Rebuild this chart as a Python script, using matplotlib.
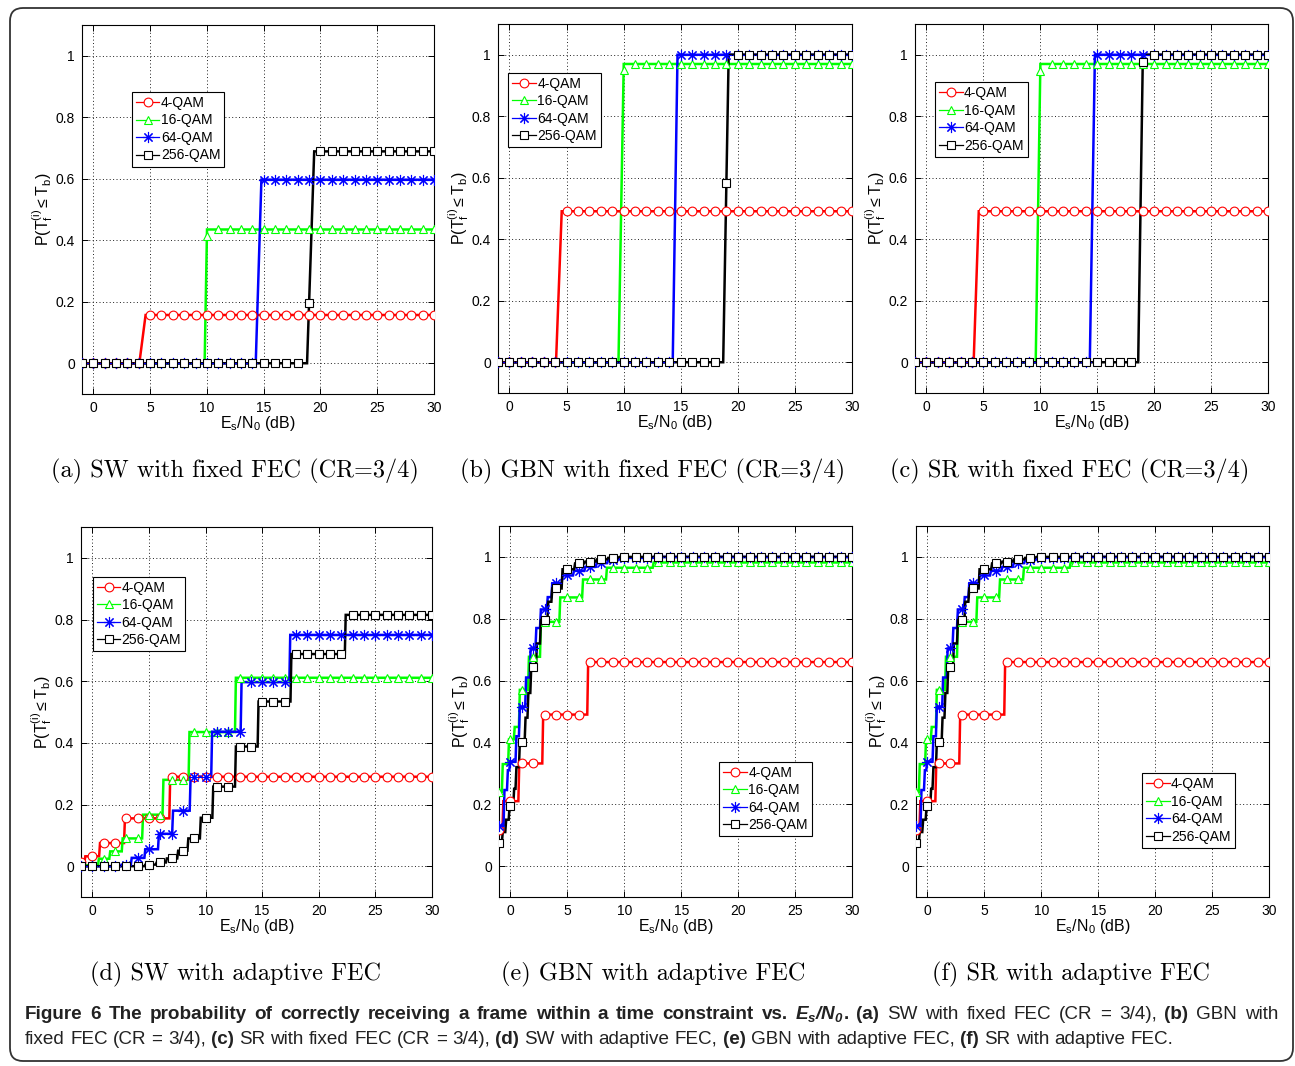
import numpy as np
import matplotlib
matplotlib.use("Agg")
import matplotlib.pyplot as plt
from matplotlib import font_manager
from matplotlib.font_manager import FontProperties
from matplotlib.lines import Line2D
from matplotlib.patches import FancyBboxPatch

# ---------------------------------------------------------------------------
# Data: P(T_f <= T_b) versus Es/N0.  Each curve is a staircase given as
# (Es/N0 where the step starts [dB], probability reached after the step).
# The first entry is the value at the lowest simulated Es/N0.
# ---------------------------------------------------------------------------
SNR_GRID = np.arange(-1, 31)          # simulated Es/N0 points (dB)
MODULATIONS = ["4-QAM", "16-QAM", "64-QAM", "256-QAM"]
COLORS = ["#ff0000", "#00ff00", "#0000ff", "#000000"]
MARKERS = ["o", "^", (8, 2, 0), "s"]

# (a) SW with fixed FEC (CR = 3/4)
sw_fixed_4qam = [(-1, 0.0), (4.05, 0.157)]
sw_fixed_16qam = [(-1, 0.0), (9.80, 0.435)]
sw_fixed_64qam = [(-1, 0.0), (14.30, 0.597)]
sw_fixed_256qam = [(-1, 0.0), (18.82, 0.689)]
sw_fixed_ramp = [0.55, 0.21, 0.50, 0.63]

# (b) GBN with fixed FEC (CR = 3/4)
gbn_fixed_4qam = [(-1, 0.0), (4.08, 0.491)]
gbn_fixed_16qam = [(-1, 0.0), (9.55, 0.970)]
gbn_fixed_64qam = [(-1, 0.0), (14.30, 1.0)]
gbn_fixed_256qam = [(-1, 0.0), (18.72, 1.0)]
gbn_fixed_ramp = [0.50, 0.46, 0.42, 0.48]

# (c) SR with fixed FEC (CR = 3/4)
sr_fixed_4qam = [(-1, 0.0), (4.15, 0.491)]
sr_fixed_16qam = [(-1, 0.0), (9.60, 0.970)]
sr_fixed_64qam = [(-1, 0.0), (14.35, 1.0)]
sr_fixed_256qam = [(-1, 0.0), (18.60, 1.0)]
sr_fixed_ramp = [0.45, 0.41, 0.45, 0.41]

# (d) SW with adaptive FEC
sw_adapt_4qam = [(-1, 0.012), (-0.7, 0.032), (0.6, 0.075), (2.8, 0.155),
                 (6.8, 0.29)]
sw_adapt_16qam = [(-1, 0.003), (0.5, 0.024), (1.5, 0.048), (2.6, 0.09),
                  (4.4, 0.167), (6.2, 0.28), (8.5, 0.435), (12.6, 0.611)]
sw_adapt_64qam = [(-1, 0.0), (2.5, 0.005), (3.4, 0.027), (4.6, 0.055),
                  (5.8, 0.105), (7.05, 0.18), (8.6, 0.29), (10.5, 0.436),
                  (13.1, 0.597), (17.4, 0.75)]
sw_adapt_256qam = [(-1, 0.0), (4.6, 0.005), (5.6, 0.012), (6.5, 0.025),
                   (7.5, 0.05), (8.4, 0.09), (9.5, 0.157), (10.6, 0.258),
                   (12.6, 0.388), (14.6, 0.534), (17.5, 0.688), (22.3, 0.815)]

# (e) GBN with adaptive FEC
gbn_adapt_4qam = [(-1, 0.117), (-0.7, 0.21), (0.7, 0.332), (2.8, 0.49),
                  (6.75, 0.66)]
gbn_adapt_16qam = [(-1, 0.24), (-0.75, 0.33), (-0.2, 0.41), (0.3, 0.45),
                   (0.75, 0.57), (1.55, 0.677), (2.6, 0.79), (4.3, 0.869),
                   (6.3, 0.927), (8.4, 0.965), (12.5, 0.982)]
gbn_adapt_64qam = [(-1, 0.13), (-0.6, 0.246), (-0.3, 0.31), (-0.1, 0.338),
                   (0.45, 0.42), (0.75, 0.515), (1.3, 0.61), (1.7, 0.704),
                   (2.2, 0.77), (2.6, 0.83), (3.2, 0.87), (3.6, 0.915),
                   (4.5, 0.94), (5.5, 0.955), (6.5, 0.968), (7.5, 0.98),
                   (8.5, 0.99), (9.5, 0.997), (12.5, 1.0)]
gbn_adapt_256qam = [(-1, 0.076), (-0.75, 0.11), (-0.45, 0.15), (-0.15, 0.194),
                    (0.25, 0.25), (0.45, 0.32), (0.75, 0.40), (1.25, 0.48),
                    (1.5, 0.56), (1.75, 0.645), (2.25, 0.72), (2.6, 0.796),
                    (3.25, 0.855), (3.6, 0.898), (4.5, 0.96), (5.6, 0.979),
                    (6.5, 0.985), (7.5, 0.992), (8.5, 0.997), (9.5, 1.0)]

# (f) SR with adaptive FEC
sr_adapt_4qam = [(-1, 0.117), (-0.7, 0.21), (0.7, 0.332), (2.8, 0.49),
                 (6.75, 0.66)]
sr_adapt_16qam = [(-1, 0.24), (-0.75, 0.33), (-0.2, 0.41), (0.3, 0.45),
                  (0.75, 0.57), (1.55, 0.677), (2.6, 0.79), (4.3, 0.869),
                  (6.3, 0.927), (8.4, 0.965), (12.5, 0.982)]
sr_adapt_64qam = [(-1, 0.13), (-0.6, 0.246), (-0.3, 0.31), (-0.1, 0.338),
                  (0.45, 0.42), (0.75, 0.515), (1.3, 0.61), (1.7, 0.704),
                  (2.2, 0.77), (2.6, 0.83), (3.2, 0.87), (3.6, 0.915),
                  (4.5, 0.94), (5.5, 0.955), (6.5, 0.968), (7.5, 0.98),
                  (8.5, 0.99), (9.5, 0.997), (12.5, 1.0)]
sr_adapt_256qam = [(-1, 0.076), (-0.75, 0.11), (-0.45, 0.15), (-0.15, 0.194),
                   (0.25, 0.25), (0.45, 0.32), (0.75, 0.40), (1.25, 0.48),
                   (1.5, 0.56), (1.75, 0.645), (2.25, 0.72), (2.6, 0.796),
                   (3.25, 0.855), (3.6, 0.898), (4.5, 0.96), (5.6, 0.979),
                   (6.5, 0.985), (7.5, 0.992), (8.5, 0.997), (9.5, 1.0)]
adapt_ramp = [0.08, 0.08, 0.08, 0.08]

SUBTITLES = ["(a) SW with fixed FEC (CR=3/4)",
             "(b) GBN with fixed FEC (CR=3/4)",
             "(c) SR with fixed FEC (CR=3/4)",
             "(d) SW with adaptive FEC",
             "(e) GBN with adaptive FEC",
             "(f) SR with adaptive FEC"]

X_TICKS = [0, 5, 10, 15, 20, 25, 30]
Y_TICKS = [0, 0.2, 0.4, 0.6, 0.8, 1.0]
Y_TICK_LABELS = ["0", "0.2", "0.4", "0.6", "0.8", "1"]

PANELS = [
    ([sw_fixed_4qam, sw_fixed_16qam, sw_fixed_64qam, sw_fixed_256qam], sw_fixed_ramp),
    ([gbn_fixed_4qam, gbn_fixed_16qam, gbn_fixed_64qam, gbn_fixed_256qam], gbn_fixed_ramp),
    ([sr_fixed_4qam, sr_fixed_16qam, sr_fixed_64qam, sr_fixed_256qam], sr_fixed_ramp),
    ([sw_adapt_4qam, sw_adapt_16qam, sw_adapt_64qam, sw_adapt_256qam], adapt_ramp),
    ([gbn_adapt_4qam, gbn_adapt_16qam, gbn_adapt_64qam, gbn_adapt_256qam], adapt_ramp),
    ([sr_adapt_4qam, sr_adapt_16qam, sr_adapt_64qam, sr_adapt_256qam], adapt_ramp),
]


def font_available(name):
    try:
        font_manager.findfont(FontProperties(family=name), fallback_to_default=False)
        return True
    except Exception:
        return False


SANS = "Liberation Sans"
CAPTION_FONT = "Liberation Sans Narrow" if font_available("Liberation Sans Narrow") else "Liberation Sans"
SERIF = "cmr10"

plt.rcParams.update({
    "font.family": SANS,
    "mathtext.fontset": "custom",
    "mathtext.rm": SANS,
    "mathtext.it": SANS + ":italic",
    "mathtext.bf": CAPTION_FONT + ":italic:bold",
    "axes.unicode_minus": False,
})


def staircase(steps, ramp, x_end=30.0):
    """Polyline vertices of a staircase with short linear risers."""
    xs, ys = [steps[0][0]], [steps[0][1]]
    for x, level in steps[1:]:
        xs += [x, x + ramp]
        ys += [ys[-1], level]
    xs.append(x_end)
    ys.append(ys[-1])
    return np.array(xs), np.array(ys)


W, H = 1295, 1066
fig = plt.figure(figsize=(W / 100, H / 100), dpi=100)
fig.patch.set_facecolor("white")

# axes boxes in pixels: left, top, right, bottom
AX_BOXES = [(82, 25, 434, 394), (498, 24, 852, 393), (915, 24, 1268, 393),
            (81, 527, 432, 897), (499, 526, 852, 897), (916, 526, 1269, 897)]
LEGEND_ANCHORS = [(0.141, 0.819), (0.029, 0.868), (0.056, 0.843),
                  (0.033, 0.866), (0.624, 0.365), (0.640, 0.334)]
SUBTITLE_POS = [(235, 471), (653, 471), (1070, 471),
                (236, 974), (653, 974), (1071, 974)]


def marker_style(mk, col):
    if isinstance(mk, tuple):      # asterisk
        return dict(marker=mk, markersize=8, markeredgecolor=col,
                    markeredgewidth=0.8)
    return dict(marker=mk, markersize=6.3, markerfacecolor="white",
                markeredgecolor=col, markeredgewidth=0.8)


for i, ((series, ramps), box) in enumerate(zip(PANELS, AX_BOXES)):
    l, t, r, b = box
    ax = fig.add_axes([l / W, 1 - b / H, (r - l) / W, (b - t) / H])
    handles = []
    for steps, ramp, col, mk, name in zip(series, ramps, COLORS, MARKERS, MODULATIONS):
        xs, ys = staircase(steps, ramp)
        ax.plot(xs, ys, color=col, lw=1.8, solid_joinstyle="miter", zorder=3)
        yg = np.interp(SNR_GRID, xs, ys)
        ax.plot(SNR_GRID, yg, linestyle="none", zorder=4, **marker_style(mk, col))
        handles.append(Line2D([], [], color=col, lw=0.9, label=name,
                              **marker_style(mk, col)))

    ax.set_xlim(-1, 30)
    ax.set_ylim(-0.1, 1.1)
    ax.set_xticks(X_TICKS)
    ax.set_yticks(Y_TICKS)
    ax.set_yticklabels(Y_TICK_LABELS)
    ax.tick_params(direction="in", length=4, width=0.7, top=True, right=True,
                   labelsize=10, pad=5, colors="black")
    ax.grid(True, color="#202020", linestyle=(0, (1, 2.5)), linewidth=0.7)
    for s in ax.spines.values():
        s.set_linewidth(0.8)
        s.set_color("black")
    ax.set_xlabel(r"$\mathrm{E_s/N_0}$ (dB)", fontsize=11.5, labelpad=-1)
    ax.set_ylabel(r"$\mathrm{P(T_f^{(i)} \leq T_b)}$", fontsize=11.5, labelpad=0.5)

    leg = ax.legend(handles=handles, loc="upper left", bbox_to_anchor=LEGEND_ANCHORS[i],
                    borderaxespad=0, fontsize=10, frameon=True, fancybox=False,
                    edgecolor="black", framealpha=1, handlelength=1.7,
                    handletextpad=0.1, labelspacing=0.25, borderpad=0.3)
    leg.get_frame().set_linewidth(0.8)

    sx, sy = SUBTITLE_POS[i]
    fig.text(sx / W, 1 - sy / H, SUBTITLES[i], family=SERIF, fontsize=17.5,
             ha="center", va="center")

# ---- outer rounded frame ----------------------------------------------------
frame = FancyBboxPatch((10 / 100, (H - 1061) / 100), 1283 / 100, 1053 / 100,
                       boxstyle="round,pad=0,rounding_size=0.13",
                       transform=fig.dpi_scale_trans, facecolor="none",
                       edgecolor="#333333", linewidth=1.3, zorder=10)
fig.patches.append(frame)

# ---- caption: words with bold / regular runs, first line justified ----------
fig.canvas.draw()
renderer = fig.canvas.get_renderer()


def run_width(text, **kw):
    t1 = fig.text(0, 0, "|" + text + "|", **kw)
    w1 = t1.get_window_extent(renderer).width
    t1.remove()
    t0 = fig.text(0, 0, "||", **kw)
    w0 = t0.get_window_extent(renderer).width
    t0.remove()
    return w1 - w0


def words(text, weight, glue_first=False):
    out = []
    for k, wd in enumerate(text.split()):
        out.append((wd, weight, not (k == 0 and glue_first)))
    return out


line1 = (words("Figure 6 The probability of correctly receiving a frame "
               "within a time constraint vs.", "bold")
         + [(r"$\mathbf{E_s/N_0}$", "bold", True), (".", "bold", False)]
         + words("(a)", "bold") + words("SW with fixed FEC (CR = 3/4),", "normal")
         + words("(b)", "bold") + words("GBN with", "normal"))
line2 = (words("fixed FEC (CR = 3/4),", "normal") + words("(c)", "bold")
         + words("SR with fixed FEC (CR = 3/4),", "normal") + words("(d)", "bold")
         + words("SW with adaptive FEC,", "normal") + words("(e)", "bold")
         + words("GBN with adaptive FEC,", "normal") + words("(f)", "bold")
         + words("SR with adaptive FEC.", "normal"))


def natural(tokens, size):
    sp = run_width(" ", family=CAPTION_FONT, fontsize=size)
    ws = [run_width(s, family=CAPTION_FONT, weight=w, fontsize=size) for s, w, _ in tokens]
    gaps = [sp if (g and k > 0) else 0.0 for k, (_, _, g) in enumerate(tokens)]
    return ws, gaps


base = 12.0
ws2, gaps2 = natural(line2, base)
cap_size = base * (1180 - 25) / (sum(ws2) + sum(gaps2))


def place_line(tokens, y_px, right=None):
    ws, gaps = natural(tokens, cap_size)
    n_gaps = sum(1 for g in gaps if g > 0)
    extra = 0.0
    if right is not None and n_gaps:
        extra = (right - 25 - sum(ws) - sum(gaps)) / n_gaps
    x = 25.0
    for (s, w, _), wd, gp in zip(tokens, ws, gaps):
        if gp > 0:
            x += gp + extra
        fig.text(x / W, 1 - y_px / H, s, family=CAPTION_FONT, weight=w,
                 fontsize=cap_size, ha="left", va="baseline", color="#222222")
        x += wd


place_line(line1, 1019, right=1278)
place_line(line2, 1044)

fig.savefig("out.png", dpi=100, facecolor="white")
